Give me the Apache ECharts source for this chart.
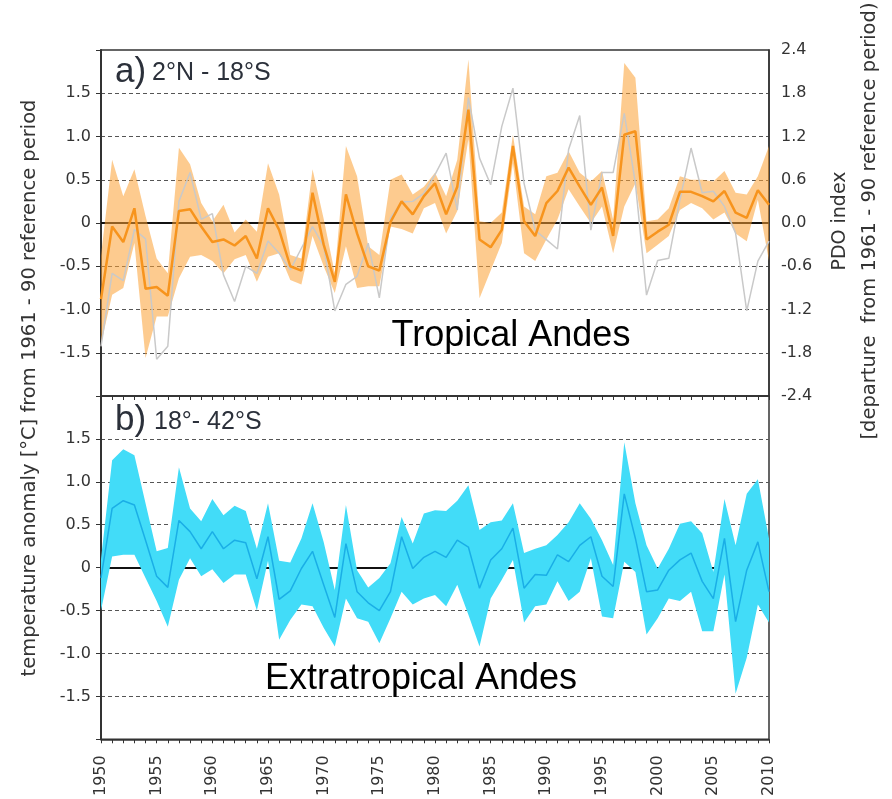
<!DOCTYPE html>
<html>
<head>
<meta charset="utf-8">
<script src="https://cdn.jsdelivr.net/npm/echarts@6/dist/echarts.min.js"></script>
<style>
  html, body { margin: 0; padding: 0; background: #fff; }
  #chart { width: 892px; height: 799px; }
</style>
</head>
<body>
<div id="chart"></div>
<script>
// Years on the shared time axis
const years = [1950,1951,1952,1953,1954,1955,1956,1957,1958,1959,
  1960,1961,1962,1963,1964,1965,1966,1967,1968,1969,
  1970,1971,1972,1973,1974,1975,1976,1977,1978,1979,
  1980,1981,1982,1983,1984,1985,1986,1987,1988,1989,
  1990,1991,1992,1993,1994,1995,1996,1997,1998,1999,
  2000,2001,2002,2003,2004,2005,2006,2007,2008,2009,2010];

// a) Tropical Andes (2°N - 18°S): mean anomaly and its range [°C]
const tropMean = [-0.88,-0.04,-0.22,0.17,-0.76,-0.74,-0.84,0.14,0.16,-0.04,
  -0.22,-0.19,-0.26,-0.15,-0.41,0.17,-0.08,-0.50,-0.55,0.35,
  -0.25,-0.68,0.33,-0.12,-0.50,-0.55,0.01,0.25,0.10,0.31,
  0.46,0.10,0.42,1.31,-0.19,-0.28,-0.08,0.89,0.02,-0.15,
  0.23,0.37,0.64,0.42,0.21,0.41,-0.15,1.02,1.06,-0.19,
  -0.10,-0.02,0.36,0.36,0.31,0.25,0.37,0.12,0.06,0.38,0.21];
const tropUpper = [-0.38,0.73,0.31,0.62,0.08,-0.41,-0.58,0.87,0.68,0.23,
  0.02,0.21,-0.11,0.04,-0.10,0.69,0.33,-0.37,-0.41,0.62,
  0.05,-0.58,0.89,0.54,-0.27,-0.37,0.50,0.56,0.33,0.42,
  0.58,0.31,0.73,1.89,0.02,0.00,0.12,1.02,0.19,0.10,
  0.54,0.58,0.83,0.58,0.48,0.60,0.04,1.85,1.68,0.02,
  0.04,0.17,0.54,0.50,0.50,0.48,0.60,0.35,0.33,0.54,0.89];
const tropLower = [-1.40,-0.83,-0.75,-0.23,-1.56,-1.08,-1.08,-0.64,-0.39,-0.37,
  -0.44,-0.58,-0.42,-0.37,-0.68,-0.39,-0.35,-0.66,-0.71,-0.15,
  -0.50,-0.81,-0.27,-0.75,-0.73,-0.73,-0.04,-0.07,-0.12,0.17,
  0.23,-0.12,0.14,0.97,-0.87,-0.55,-0.23,0.69,-0.35,-0.44,
  -0.19,0.04,0.39,0.19,0.00,0.19,-0.35,0.19,0.46,-0.35,
  -0.25,-0.15,0.15,0.23,0.17,0.04,0.12,-0.12,-0.21,0.27,-0.44];

// PDO index (right axis of panel a)
const pdo = [-1.71,-0.70,-0.80,-0.09,-0.22,-1.89,-1.71,0.30,0.70,0.05,
  0.13,-0.72,-1.09,-0.60,-0.70,-0.25,-0.42,-0.65,-0.35,-0.05,
  -0.32,-1.22,-0.85,-0.74,-0.28,-1.04,0.07,0.29,0.30,0.41,
  0.67,0.97,0.18,1.74,0.90,0.53,1.34,1.87,0.55,-0.10,
  -0.23,-0.36,1.02,1.49,-0.10,0.70,0.70,1.52,0.55,-1.00,
  -0.52,-0.49,0.32,1.04,0.42,0.44,0.23,-0.14,-1.22,-0.53,-0.25];

// b) Extratropical Andes (18° - 42°S): mean anomaly and its range [°C]
const extraMean = [-0.12,0.69,0.78,0.73,0.32,-0.10,-0.23,0.55,0.42,0.22,
  0.42,0.22,0.32,0.29,-0.13,0.36,-0.37,-0.27,-0.01,0.19,
  -0.20,-0.58,0.28,-0.28,-0.41,-0.50,-0.28,0.36,-0.01,0.12,
  0.19,0.12,0.32,0.24,-0.24,0.09,0.22,0.46,-0.24,-0.08,
  -0.09,0.15,0.07,0.26,0.36,-0.10,-0.22,0.86,0.34,-0.28,
  -0.26,-0.03,0.09,0.17,-0.16,-0.36,0.34,-0.63,-0.03,0.30,-0.28];
const extraUpper = [0.10,1.25,1.38,1.31,0.75,0.19,0.23,1.17,0.69,0.54,
  0.80,0.61,0.72,0.66,0.22,0.75,0.08,0.06,0.34,0.75,
  0.30,-0.26,0.73,-0.03,-0.23,-0.12,0.05,0.59,0.28,0.63,
  0.67,0.66,0.78,0.96,0.44,0.53,0.55,0.75,0.17,0.22,
  0.26,0.38,0.53,0.75,0.57,0.32,0.03,1.46,0.75,0.26,
  -0.01,0.22,0.51,0.54,0.40,-0.05,0.80,0.26,0.86,1.03,0.34];
const extraLower = [-0.50,0.13,0.15,0.15,-0.12,-0.39,-0.69,-0.14,0.11,-0.10,
  -0.02,-0.18,-0.08,-0.08,-0.50,0.08,-0.84,-0.61,-0.43,-0.45,
  -0.70,-0.92,-0.36,-0.59,-0.63,-0.88,-0.59,-0.28,-0.43,-0.36,
  -0.32,-0.45,-0.20,-0.55,-0.92,-0.36,-0.14,0.09,-0.64,-0.45,
  -0.43,-0.16,-0.39,-0.28,0.11,-0.57,-0.59,0.07,-0.05,-0.78,
  -0.59,-0.36,-0.39,-0.28,-0.74,-0.74,-0.08,-1.47,-1.05,-0.43,-0.64];

// Axis tick settings
const tempMin = -2, tempMax = 2, tempStep = 0.5;
const pdoMin = -2.4, pdoMax = 2.4, pdoStep = 0.6;
const yearMin = 1950, yearMax = 2010, yearStep = 5;

const pairs = (vals) => years.map((y, i) => [y, vals[i]]);
const triples = (lo, hi) => years.map((y, i) => [y, lo[i], hi[i]]);

const AXIS = '#333';
const TICK_FONT = 'DejaVu Sans';

function tempLabel(v) {
  if (Math.abs(v) > 1.9) return '';
  if (v === 0) return '0';
  return v.toFixed(1);
}
// hide split lines at the frame edges (-2 and 2)
const gridColors = ['rgba(0,0,0,0)', '#555', '#555', '#555', '#555', '#555', '#555', '#555', 'rgba(0,0,0,0)'];

function tempAxis(gridIndex) {
  return {
    type: 'value', gridIndex, min: tempMin, max: tempMax, interval: tempStep,
    axisLine: { show: true, lineStyle: { color: AXIS, width: 2 } },
    axisTick: { show: true, length: 5, lineStyle: { color: AXIS } },
    axisLabel: { formatter: tempLabel, margin: 10, color: '#333', fontFamily: TICK_FONT, fontSize: 16 },
    splitLine: { show: true, lineStyle: { color: gridColors, type: [4, 3], width: 1 } }
  };
}

function yearAxis(gridIndex, labels) {
  return {
    type: 'value', gridIndex, min: yearMin, max: yearMax, interval: yearStep,
    axisLine: { show: true, onZero: false, lineStyle: { color: AXIS, width: 1.5 } },
    axisTick: { show: true, length: 4, lineStyle: { color: AXIS } },
    minorTick: { show: true, splitNumber: 5, length: 4, lineStyle: { color: AXIS } },
    splitLine: { show: false },
    axisLabel: labels
      ? { show: true, rotate: 90, margin: 16, color: '#333', fontFamily: TICK_FONT, fontSize: 16, formatter: v => String(v) }
      : { show: false }
  };
}

// Filled range between lower and upper curves, drawn as one polygon
function bandSeries(xi, yi, lo, hi, color, z) {
  return {
    type: 'custom', xAxisIndex: xi, yAxisIndex: yi, z, clip: true, silent: true,
    data: triples(lo, hi),
    encode: { x: 0, y: [1, 2] },
    renderItem(params, api) {
      if (params.dataIndex !== 0) return null;
      const top = years.map((y, i) => api.coord([y, hi[i]]));
      const bottom = years.map((y, i) => api.coord([y, lo[i]])).reverse();
      return { type: 'polygon', shape: { points: top.concat(bottom) }, style: { fill: color } };
    }
  };
}

// Solid zero line, kept beneath the range bands
const zeroLine = {
  silent: true, symbol: 'none', animation: false, z: 1,
  label: { show: false },
  lineStyle: { color: '#111', width: 2, type: 'solid' },
  data: [{ yAxis: 0 }]
};

const option = {
  animation: false,
  backgroundColor: '#fff',
  grid: [
    { left: 101, top: 50, width: 668, height: 346, show: true, borderColor: AXIS, borderWidth: 1.5, backgroundColor: 'transparent' },
    { left: 101, top: 396, width: 668, height: 346, show: true, borderColor: AXIS, borderWidth: 1.5, backgroundColor: 'transparent' }
  ],
  xAxis: [yearAxis(0, false), yearAxis(1, true)],
  yAxis: [
    tempAxis(0),
    {
      type: 'value', gridIndex: 0, position: 'right', min: pdoMin, max: pdoMax, interval: pdoStep,
      axisLine: { show: true, lineStyle: { color: AXIS, width: 1.5 } },
      axisTick: { show: false },
      axisLabel: { formatter: v => v.toFixed(1), margin: 12, color: '#333', fontFamily: TICK_FONT, fontSize: 16 },
      splitLine: { show: false }
    },
    tempAxis(1)
  ],
  series: [
    // panel a: zero reference line
    { type: 'line', xAxisIndex: 0, yAxisIndex: 0, data: [], markLine: zeroLine, z: 1 },
    // panel a: range band
    bandSeries(0, 0, tropLower, tropUpper, 'rgba(251,160,51,0.55)', 3),
    // PDO index
    { type: 'line', xAxisIndex: 0, yAxisIndex: 1, data: pairs(pdo), symbol: 'none',
      lineStyle: { color: '#c9c9c9', width: 1.5 }, z: 4 },
    // panel a: mean
    { type: 'line', xAxisIndex: 0, yAxisIndex: 0, data: pairs(tropMean), symbol: 'none',
      lineStyle: { color: '#f7941d', width: 2.5 }, z: 5 },
    // panel b: zero reference line
    { type: 'line', xAxisIndex: 1, yAxisIndex: 2, data: [], markLine: zeroLine, z: 1 },
    // panel b: range band
    bandSeries(1, 2, extraLower, extraUpper, '#42dcf8', 3),
    // panel b: mean
    { type: 'line', xAxisIndex: 1, yAxisIndex: 2, data: pairs(extraMean), symbol: 'none',
      lineStyle: { color: '#1aaee6', width: 1.5 }, z: 5 }
  ],
  graphic: [
    { type: 'text', x: 30, y: 388, rotation: Math.PI / 2, z: 10,
      style: { text: 'temperature anomaly [°C] from 1961 - 90 reference period', font: '19.5px "DejaVu Sans"', fill: '#333', align: 'center', verticalAlign: 'middle' } },
    { type: 'text', x: 840, y: 221, rotation: Math.PI / 2, z: 10,
      style: { text: 'PDO index', font: '19px "DejaVu Sans"', fill: '#333', align: 'center', verticalAlign: 'middle' } },
    { type: 'text', x: 870, y: 221, rotation: Math.PI / 2, z: 10,
      style: { text: '[departure  from 1961 - 90 reference period)', font: '19.5px "DejaVu Sans"', fill: '#333', align: 'center', verticalAlign: 'middle' } },
    { type: 'text', x: 115, y: 90, z: 10,
      style: { text: 'a)', font: '35px "Liberation Sans"', fill: '#2b303a', align: 'left', verticalAlign: 'bottom' } },
    { type: 'text', x: 152, y: 86, z: 10,
      style: { text: '2°N - 18°S', font: '25px "Liberation Sans"', fill: '#2b303a', align: 'left', verticalAlign: 'bottom' } },
    { type: 'text', x: 115, y: 438, z: 10,
      style: { text: 'b)', font: '35px "Liberation Sans"', fill: '#2b303a', align: 'left', verticalAlign: 'bottom' } },
    { type: 'text', x: 154, y: 435, z: 10,
      style: { text: '18°- 42°S', font: '25px "Liberation Sans"', fill: '#2b303a', align: 'left', verticalAlign: 'bottom' } },
    { type: 'text', x: 511, y: 336, z: 10,
      style: { text: 'Tropical Andes', font: '36px "Liberation Sans"', fill: '#000', align: 'center', verticalAlign: 'middle' } },
    { type: 'text', x: 421, y: 679, z: 10,
      style: { text: 'Extratropical Andes', font: '36px "Liberation Sans"', fill: '#000', align: 'center', verticalAlign: 'middle' } }
  ]
};

const chart = echarts.init(document.getElementById('chart'), null, { renderer: 'canvas' });
chart.setOption(option);
</script>
</body>
</html>
